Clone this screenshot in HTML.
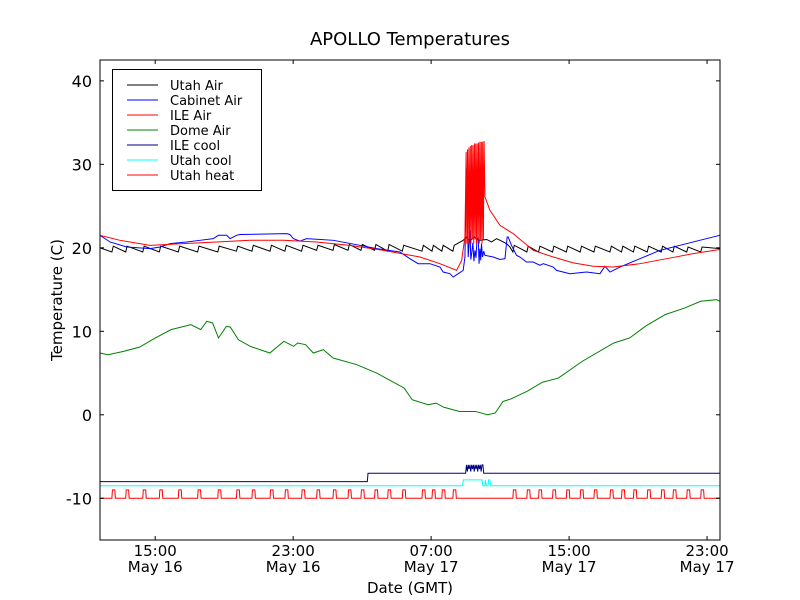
<!DOCTYPE html>
<html><head><meta charset="utf-8">
<style>
body{margin:0;background:#fff;}
svg{display:block;font-family:"DejaVu Sans","Liberation Sans",sans-serif;}
</style></head>
<body>
<svg id="chart" width="800" height="600" viewBox="0 0 800 600" xmlns="http://www.w3.org/2000/svg">
<rect width="800" height="600" fill="#fff"/>
<text x="410" y="45" text-anchor="middle" font-size="18">APOLLO Temperatures</text>
<text transform="translate(62,300) rotate(-90)" text-anchor="middle" font-size="15">Temperature (C)</text>
<text x="410" y="593" text-anchor="middle" font-size="15">Date (GMT)</text>
<g id="series"></g>
<g id="axes"></g>
<g id="legend"></g>
</svg>
<script>
// hours since May 16 00:00 GMT
const xDomain = [11.8, 47.75];
const yDomain = [-15, 42.5];
const yTicks = [0, 10, 20, 30, 40];
const yTickLabels = ["0", "10", "20", "30", "40"];
const yTicksNeg = [-10];
const yTickLabelsNeg = ["-10"];
const xTicks = [15, 23, 31, 39, 47];
const xTickTimes = ["15:00", "23:00", "07:00", "15:00", "23:00"];
const xTickDates = ["May 16", "May 16", "May 17", "May 17", "May 17"];

const heatPulses = [12.49,13.29,14.28,15.24,16.34,17.46,18.63,19.71,20.61,21.66,22.52,23.49,24.36,25.31,26.18,26.93,27.72,28.48,29.33,30.47,31.05,31.62,32.26,35.74,36.55,37.23,38.04,38.84,39.64,40.44,41.37,42.04,42.73,43.53,44.34,45.02,45.82,46.63];
const utahAirPeak = [20.2,20.2,20.2,20.2,20.2,20.2,20.2,20.2,20.3,20.3,20.3,20.3,20.3,20.4,20.4,20.4,20.4,20.4,20.3,20.3,20.3,20.3,20.3,20.3,20.2,20.2,20.2,20.2,20.2,20.2,20.2,20.2,20.2,20.2,20.2,20.2,20.1,20.1];
const utahAirTrough = [19.5,19.5,19.5,19.5,19.5,19.5,19.5,19.6,19.6,19.6,19.6,19.6,19.7,19.7,19.7,19.7,19.7,19.6,19.6,19.6,19.6,19.6,19.6,19.5,19.5,19.5,19.5,19.5,19.5,19.5,19.5,19.5,19.5,19.5,19.5,19.5,19.5,19.5];
const utahAirStart = [[11.8,20.0]];
const utahAirMid = [[32.86,20.9],[33.05,21.3],[33.25,20.8],[33.5,21.3],[33.8,20.9],[34.22,21.0],[34.5,20.7],[34.8,21.1],[35.1,20.8],[35.37,20.5],[35.57,20.1],[35.74,19.5]];
const utahAirEnd = [[47.75,19.9]];

const cabinetTimes = [11.8,12.38,13.35,14.7,15.28,15.86,16.82,17.6,18.37,18.66,19.14,19.34,19.72,19.92,22.62,22.81,23.01,23.39,23.78,25.33,26.87,27.84,29.19,29.77,30.25,30.93,31.51,31.7,32.09,32.28,32.57,32.86,32.96,33.05,33.15,33.25,33.3,33.35,33.42,33.48,33.54,33.6,33.66,33.73,33.78,33.83,33.88,33.92,33.98,34.05,34.12,34.6,34.99,35.28,35.41,35.47,35.66,35.95,36.15,36.53,36.92,37.31,37.5,38.08,38.27,39.05,40.01,40.79,41.08,41.37,41.95,43.11,44.27,45.43,46.58,47.74];
const cabinetVals = [21.5,20.7,20.1,19.9,20.1,20.5,20.7,20.9,21.1,21.5,21.5,21.1,21.5,21.6,21.7,21.6,21.1,20.8,21.1,20.9,20.3,19.9,19.5,18.7,18.1,18.1,17.7,17.1,16.9,16.5,16.9,17.3,18.9,29.5,18.9,22.1,18.6,19.3,20.6,18.4,19.7,18.8,21.0,21.3,18.1,19.9,18.5,20.5,18.9,19.6,19.1,18.9,18.6,18.7,21.3,21.3,20.3,19.1,18.9,18.3,18.3,17.9,18.1,17.7,17.3,16.9,17.1,16.9,17.8,17.1,17.7,18.7,19.7,20.3,20.9,21.5];

const ileTimes = [11.8,12.96,14.7,16.63,18.56,20.5,22.43,24.36,26.29,28.23,30.35,31.51,32.48,32.77,32.96,33.03,33.07,33.11,33.15,33.19,33.23,33.27,33.31,33.35,33.39,33.43,33.47,33.51,33.55,33.59,33.63,33.67,33.71,33.75,33.79,33.83,33.87,33.91,33.95,33.99,34.03,34.07,34.12,34.41,34.99,35.76,36.92,38.08,39.24,40.4,41.56,43.11,44.65,46.2,47.74];
const ileVals = [21.5,20.9,20.3,20.5,20.7,20.9,20.9,20.7,20.3,19.7,18.9,18.1,17.3,18.5,21.3,31.5,20.5,31.8,20.5,32.0,21.0,32.2,20.5,32.3,21.0,32.3,20.5,32.5,21.0,32.5,20.5,32.5,21.0,32.6,20.5,32.7,21.0,32.7,20.5,32.7,21.0,32.8,26.1,24.5,22.7,21.7,19.7,18.9,18.2,17.8,17.7,18.1,18.7,19.3,19.8];

const domeTimes = [11.8,12.26,13.17,14.09,15.01,15.92,17.07,17.64,17.99,18.33,18.67,19.13,19.36,19.82,20.51,21.65,22.46,23.03,23.26,23.72,24.17,24.75,25.32,26.69,27.84,29.44,29.9,30.82,31.28,31.74,32.65,33.57,34.26,34.71,35.17,35.63,36.55,37.46,38.38,39.76,41.59,42.51,43.42,44.57,45.71,46.63,47.55,47.75];
const domeVals = [7.4,7.2,7.6,8.1,9.2,10.2,10.8,10.2,11.2,11.0,9.2,10.6,10.5,9.0,8.2,7.4,8.8,8.2,8.6,8.4,7.4,7.8,6.8,6.0,5.0,3.2,1.8,1.2,1.4,0.9,0.4,0.4,0.0,0.2,1.6,1.9,2.8,3.9,4.4,6.4,8.6,9.2,10.6,12.0,12.8,13.6,13.8,13.6];

const ileCoolTimes = [11.8,27.3,27.34,33.0,33.05,33.1,33.15,33.2,33.25,33.3,33.35,33.4,33.45,33.5,33.55,33.6,33.65,33.7,33.75,33.8,33.85,33.9,33.95,34.0,34.05,47.75];
const ileCoolVals = [-8,-8,-7,-7,-6,-6.8,-6,-6.5,-6,-6.8,-6,-6.5,-6,-6.8,-6,-6.5,-6,-6.8,-6,-6.5,-6,-6.8,-6,-6,-7,-7];
const utahCoolTimes = [11.8,32.8,32.88,33.95,34.0,34.12,34.15,34.2,34.3,34.33,34.4,34.45,47.75];
const utahCoolVals = [-8.5,-8.5,-7.8,-7.8,-8.5,-8.5,-7.8,-8.5,-8.5,-7.8,-7.8,-8.5,-8.5];
const heatBase = -10, heatOn = -9, heatWidth = 0.17;

const L=100,R=720,T=60,B=540;
const xs = h => L + (h - xDomain[0]) / (xDomain[1]-xDomain[0]) * (R-L);
const ys = v => T + (yDomain[1] - v) / (yDomain[1]-yDomain[0]) * (B-T);
const NS="http://www.w3.org/2000/svg";
function mk(tag, parent){const e=document.createElementNS(NS,tag);parent.appendChild(e);return e;}
const ser=document.getElementById('series');
function line(pts, color, name, w){
  const p=mk('polyline',ser);
  p.setAttribute('points',pts.map(q=>xs(q[0]).toFixed(2)+','+ys(q[1]).toFixed(2)).join(' '));
  p.setAttribute('fill','none');p.setAttribute('stroke',color);p.setAttribute('stroke-width',w||1);
  
  
}
const zip=(a,b)=>a.map((t,i)=>[t,b[i]]);

const cp=mk('clipPath',document.getElementById('chart'));cp.setAttribute('id','clip');
const cr=mk('rect',cp);cr.setAttribute('x',L);cr.setAttribute('y',T);cr.setAttribute('width',R-L);cr.setAttribute('height',B-T);
ser.setAttribute('clip-path','url(#clip)');

const heat=[[xDomain[0],heatBase]];
heatPulses.forEach(t=>{heat.push([t,heatBase],[t+0.03,heatOn],[t+heatWidth,heatOn],[t+heatWidth+0.03,heatBase]);});
heat.push([xDomain[1],heatBase]);
line(heat,'#ff0000','utah-heat-line');
line(zip(utahCoolTimes,utahCoolVals),'#00ffff','utah-cool-line');
line(zip(ileCoolTimes,ileCoolVals),'#000080','ile-cool-line');
line(zip(domeTimes,domeVals),'#008000','dome-air-line');
const ua=utahAirStart.slice();
heatPulses.forEach((t,i)=>{
  ua.push([t,utahAirTrough[i]],[t+0.08,utahAirPeak[i]]);
  if(i===22){utahAirMid.forEach(q=>ua.push(q));}
});
ua.push(...utahAirEnd);
ua.sort((a,b)=>a[0]-b[0]);
line(ua,'#000000','utah-air-line');
line(zip(cabinetTimes,cabinetVals),'#0000ff','cabinet-air-line');
line(zip(ileTimes,ileVals),'#ff0000','ile-air-line');

const ax=document.getElementById('axes');
const fr=mk('rect',ax);fr.setAttribute('x',L);fr.setAttribute('y',T);fr.setAttribute('width',R-L);fr.setAttribute('height',B-T);
fr.setAttribute('fill','none');fr.setAttribute('stroke','#000');fr.setAttribute('stroke-width',1);


function tick(x1,y1,x2,y2){const l=mk('line',ax);l.setAttribute('x1',x1);l.setAttribute('y1',y1);l.setAttribute('x2',x2);l.setAttribute('y2',y2);l.setAttribute('stroke','#000');

}
const allY=yTicksNeg.concat(yTicks), allYL=yTickLabelsNeg.concat(yTickLabels);
allY.forEach((v,i)=>{
  const y=ys(v);tick(L,y,L+4,y);tick(R,y,R-4,y);
  const t=mk('text',ax);t.setAttribute('x',L-8);t.setAttribute('y',y+6);t.setAttribute('text-anchor','end');t.setAttribute('font-size','16');t.textContent=allYL[i];
  
  
});
xTicks.forEach((h,i)=>{
  const x=xs(h);tick(x,B,x,B-4);tick(x,T,x,T+4);
  const t=mk('text',ax);t.setAttribute('x',x);t.setAttribute('y',B+16);t.setAttribute('text-anchor','middle');t.setAttribute('font-size','15');t.textContent=xTickTimes[i];
  
  
  const d=mk('text',ax);d.setAttribute('x',x);d.setAttribute('y',B+32);d.setAttribute('text-anchor','middle');d.setAttribute('font-size','15');d.textContent=xTickDates[i];
  
  
});

const lg=document.getElementById('legend');
const lb=mk('rect',lg);lb.setAttribute('x',112.5);lb.setAttribute('y',69.5);lb.setAttribute('width',149);lb.setAttribute('height',121);lb.setAttribute('fill','#fff');lb.setAttribute('stroke','#000');


const legNames=["Utah Air","Cabinet Air","ILE Air","Dome Air","ILE cool","Utah cool","Utah heat"];
const legColors=["#000000","#0000ff","#ff0000","#008000","#000080","#00ffff","#ff0000"];
legNames.forEach((n,i)=>{
  const y=85+i*15;
  const l=mk('line',lg);l.setAttribute('x1',127);l.setAttribute('x2',158);l.setAttribute('y1',y);l.setAttribute('y2',y);l.setAttribute('stroke',legColors[i]);
  
  
  const t=mk('text',lg);t.setAttribute('x',170);t.setAttribute('y',y+5);t.setAttribute('font-size','13');t.textContent=n;
  
  
});
</script>
</body></html>
